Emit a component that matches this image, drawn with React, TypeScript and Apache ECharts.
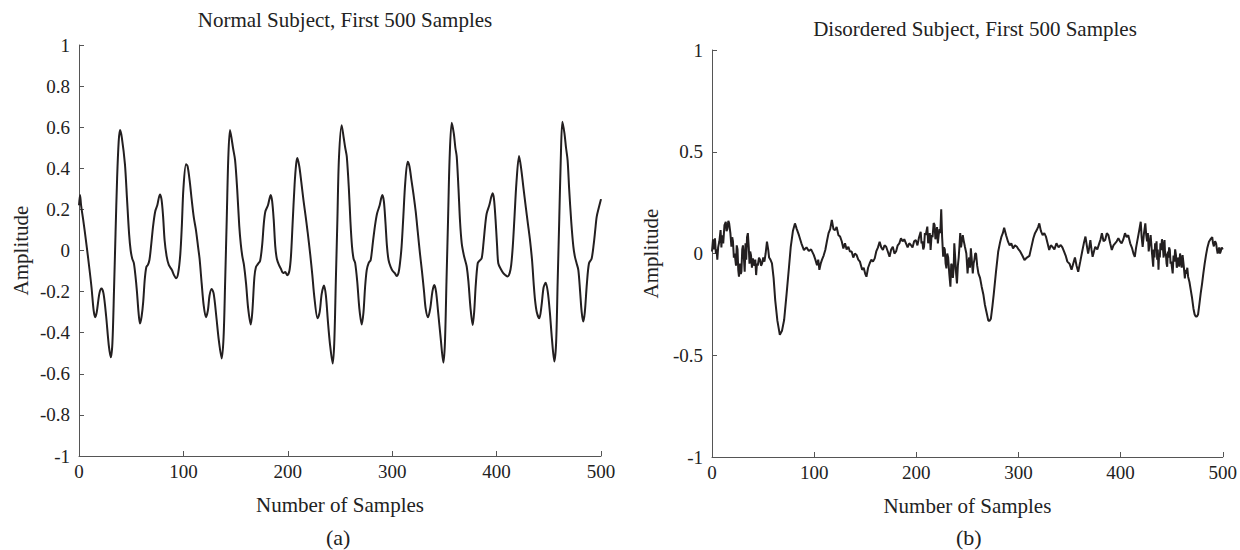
import React, { useEffect, useRef } from "react";
import * as echarts from "echarts";

const titleNormal = "Normal Subject, First 500 Samples";
const titleDisordered = "Disordered Subject, First 500 Samples";
const xAxisName = "Number of Samples";
const yAxisName = "Amplitude";
const panelLabels = ["(a)", "(b)"];

// [sample index, amplitude]
const normalSignal: number[][] = [
  [0, 0.22], [1, 0.27], [2, 0.22], [4, 0.15], [7, 0.035], [10, -0.09], [12, -0.18], [14, -0.29], [15.5, -0.325],
  [17, -0.3], [19.5, -0.21], [21.5, -0.185], [23.5, -0.21], [26, -0.32], [28.5, -0.46], [30.5, -0.52], [32, -0.45],
  [33.5, -0.2], [35, 0.085], [36.5, 0.35], [38, 0.53], [39.3, 0.586], [41, 0.55], [44, 0.42], [46, 0.25], [48, 0.08],
  [49.5, 0.0], [51, -0.04], [52.5, -0.06], [54, -0.12], [55.5, -0.2], [57, -0.3], [58.4, -0.355], [60, -0.32],
  [61.5, -0.25], [63, -0.14], [64.5, -0.08], [66, -0.07], [67.5, -0.045], [69, 0.02], [71, 0.12], [73, 0.19],
  [75, 0.22], [77.5, 0.273], [79, 0.25], [80.5, 0.17], [82, 0.05], [84, -0.03], [86, -0.07], [89, -0.095],
  [91, -0.12], [93, -0.135], [95, -0.11], [97, -0.02], [98.5, 0.12], [100, 0.3], [102.5, 0.42], [104, 0.41],
  [106, 0.34], [108, 0.245], [110, 0.16], [112, 0.1], [114, 0.02], [115.5, -0.04], [117.5, -0.16], [119.5, -0.27],
  [121.6, -0.325], [123.5, -0.29], [125, -0.22], [127, -0.187], [129, -0.21], [131.5, -0.32], [134, -0.44],
  [136.7, -0.525], [138.5, -0.42], [140, -0.15], [141.5, 0.15], [143, 0.45], [144.6, 0.586], [146, 0.55],
  [147.5, 0.5], [149.5, 0.44], [151.5, 0.3], [153.5, 0.12], [155, 0.03], [156.5, -0.03], [158, -0.07], [160, -0.16],
  [162, -0.28], [164.5, -0.36], [166, -0.3], [168, -0.13], [169.5, -0.08], [171.5, -0.065], [173.5, -0.05],
  [175.5, 0.03], [177, 0.13], [178.5, 0.19], [181, 0.22], [183.6, 0.27], [185, 0.24], [186.5, 0.15], [188, 0.02],
  [189.5, -0.04], [191.5, -0.07], [193.5, -0.09], [195.5, -0.11], [197.5, -0.105], [199.5, -0.12], [201.5, -0.1],
  [203, -0.03], [204.5, 0.12], [206.5, 0.32], [208, 0.42], [209.1, 0.45], [211, 0.41], [213, 0.33], [215, 0.245],
  [217, 0.17], [219, 0.09], [221.5, -0.02], [223.5, -0.12], [225.5, -0.23], [228.5, -0.33], [230.5, -0.3],
  [232.5, -0.21], [234.7, -0.17], [236.5, -0.22], [238.5, -0.35], [240.5, -0.46], [243, -0.55], [244.5, -0.45],
  [246, -0.15], [247.5, 0.15], [249, 0.45], [251.6, 0.61], [253.5, 0.55], [255, 0.5], [256.5, 0.457], [258.5, 0.3],
  [260, 0.14], [261.5, 0.02], [263, -0.04], [264.5, -0.06], [266.5, -0.15], [268.5, -0.28], [270.8, -0.36],
  [272.5, -0.3], [274, -0.18], [275.6, -0.095], [277.5, -0.06], [279.4, -0.046], [281.5, 0.04], [283.5, 0.12],
  [285.5, 0.18], [288, 0.22], [290.5, 0.27], [292, 0.24], [293.5, 0.14], [295, 0.02], [296.5, -0.046], [298.5, -0.08],
  [300.5, -0.1], [302.5, -0.11], [304.3, -0.124], [306, -0.11], [307.5, -0.06], [309, 0.02], [310.5, 0.15],
  [312.5, 0.33], [314.8, 0.432], [316.5, 0.41], [318.5, 0.34], [320.5, 0.27], [322.5, 0.19], [324.5, 0.09],
  [326.6, -0.015], [328.5, -0.1], [330.5, -0.2], [332, -0.28], [334.3, -0.325], [336.5, -0.28], [338.5, -0.2],
  [340.3, -0.168], [342, -0.2], [344, -0.3], [346.5, -0.43], [349, -0.546], [350.5, -0.45], [352, -0.15], [353.5, 0.15],
  [355, 0.45], [357, 0.622], [359, 0.57], [360.5, 0.5], [361.8, 0.457], [363.5, 0.3], [365, 0.14], [366.6, 0.035],
  [368.5, -0.02], [370, -0.05], [371.4, -0.079], [373, -0.15], [375, -0.28], [377.1, -0.363], [378.5, -0.3],
  [380, -0.17], [381.9, -0.062], [383.5, -0.05], [385.7, -0.038], [387.5, 0.04], [389, 0.12], [390.5, 0.18],
  [393, 0.22], [396.2, 0.278], [397.5, 0.25], [399, 0.15], [400.5, 0.02], [401.6, -0.062], [404, -0.09],
  [406.4, -0.11], [408.5, -0.12], [410.6, -0.127], [412.5, -0.11], [414, -0.07], [415.5, 0.02], [417, 0.15],
  [419, 0.33], [421.5, 0.46], [423.5, 0.4], [425.6, 0.31], [428, 0.21], [430, 0.13], [432, 0.05], [434, -0.05],
  [435.5, -0.16], [436.8, -0.24], [438.5, -0.3], [440.9, -0.33], [443, -0.27], [445, -0.18], [447, -0.157],
  [449, -0.2], [451, -0.3], [453, -0.43], [455.3, -0.54], [457, -0.45], [458.5, -0.15], [460, 0.15], [461.5, 0.45],
  [463, 0.627], [465, 0.57], [466.5, 0.5], [468, 0.44], [469.5, 0.3], [471.5, 0.14], [473.5, 0.02], [475, -0.03],
  [476.5, -0.06], [478.3, -0.095], [480, -0.2], [481.5, -0.3], [483, -0.346], [484.5, -0.3], [486.5, -0.16],
  [488.5, -0.062], [491, -0.04], [493, 0.03], [494.5, 0.1], [495.9, 0.165], [498, 0.21], [500, 0.25],
];

// [sample index, amplitude]
const disorderedSignal: number[][] = [
  [0, 0.01], [1, 0.07], [1.8, 0.02], [2.9, 0.075], [3.8, 0.0], [4.5, 0.02], [5.2, -0.03], [6, 0.03], [7.2, 0.06],
  [8.4, 0.115], [9.2, 0.03], [9.8, 0.09], [11, 0.05], [12.2, 0.14], [13.5, 0.156], [14.2, 0.11], [15, 0.12],
  [16, 0.16], [16.8, 0.148], [18, 0.1], [19, 0.033], [19.8, 0.08], [20.5, 0.06], [21.4, -0.02], [22.2, 0.0],
  [23.5, -0.06], [24.2, 0.04], [25, 0.02], [25.7, -0.08], [26.4, -0.114], [27.5, -0.05], [28.2, -0.1], [28.8, -0.09],
  [29.6, 0.02], [30.3, 0.04], [31.2, -0.02], [32, -0.09], [32.8, 0.05], [33.5, -0.03], [34.3, 0.08], [35.1, 0.1],
  [36, 0.03], [36.7, -0.05], [37.4, 0.01], [38.2, -0.01], [39.1, -0.07], [40, -0.024], [41.5, -0.06],
  [42.4, -0.03], [43.2, -0.106], [44, -0.05], [44.8, -0.06], [46, -0.02], [47.1, -0.032], [48, -0.06], [49, -0.05],
  [50.2, -0.02], [51.3, -0.04], [52.5, 0.0], [53.8, 0.058], [55, 0.02], [55.9, -0.02], [57.2, -0.03],
  [58.7, -0.048], [60.3, -0.12], [61.9, -0.23], [64, -0.33], [66.4, -0.4], [68.5, -0.38], [70.6, -0.327],
  [73, -0.2], [75.4, -0.065], [77.1, 0.033], [79.2, 0.11], [81.2, 0.148], [83, 0.12], [85.1, 0.09], [87.5, 0.05],
  [90, 0.017], [92.5, 0.03], [94.8, 0.012], [97, 0.02], [99.6, -0.007], [101.2, -0.03], [102.8, -0.057],
  [104, -0.03], [105.1, -0.08], [106.4, -0.05], [107.7, -0.03], [109.3, -0.01], [110.9, 0.017], [112.5, 0.06],
  [114.1, 0.1], [115.7, 0.12], [117.3, 0.165], [118.9, 0.12], [120.5, 0.115], [122, 0.13], [123.8, 0.09],
  [125.4, 0.083], [127, 0.06], [128.6, 0.025], [130.2, 0.05], [131.8, 0.02], [133.5, 0.033], [135, 0.01],
  [136.7, 0.01], [138.3, -0.02], [139.9, 0.0], [141.5, -0.007], [143.2, -0.03], [144.8, -0.04], [145.9, -0.06],
  [147, -0.08], [148.5, -0.07], [150, -0.1], [151.2, -0.114], [152.8, -0.07], [154.4, -0.048], [156, -0.03],
  [157.6, -0.04], [159.3, -0.024], [160.8, 0.01], [162.5, 0.03], [164.1, 0.058], [165.7, 0.03], [167.3, 0.017],
  [168.9, 0.04], [170.5, 0.033], [172.1, 0.01], [173.8, -0.016], [175.4, 0.02], [177, 0.033], [178.6, 0.0],
  [180.2, 0.01], [181.8, 0.04], [183.4, 0.05], [185, 0.075], [186.6, 0.06], [188.2, 0.07], [189.9, 0.05],
  [191.5, 0.03], [193.1, 0.05], [194.7, 0.042], [196.3, 0.03], [197.9, 0.06], [199.5, 0.066], [201.1, 0.04],
  [202.7, 0.08], [204.3, 0.107], [205.1, 0.05], [205.9, 0.06], [206.8, 0.02], [207.6, 0.033], [208.4, 0.1],
  [209.2, 0.09], [210.8, 0.132], [211.6, 0.05], [212.4, 0.07], [213.2, 0.1], [214, 0.017], [215, 0.09],
  [215.9, 0.08], [217, 0.15], [217.9, 0.14], [218.7, 0.07], [219.5, 0.1], [220.3, 0.13], [221.1, 0.05],
  [221.9, 0.09], [222.7, 0.12], [223.5, 0.1], [224.4, 0.217], [225.3, 0.08], [226.3, -0.016], [227.1, 0.03],
  [227.9, 0.02], [228.7, -0.05], [229.5, -0.073], [230.3, 0.0], [231.2, -0.02], [232.3, -0.1], [233.4, -0.163],
  [234.2, -0.05], [235, -0.06], [235.8, -0.12], [236.6, -0.073], [237.2, 0.05], [238.2, -0.03], [239, -0.1],
  [239.8, -0.147], [240.7, -0.06], [241.5, -0.02], [242.3, 0.04], [243, 0.1], [243.8, 0.03], [244.6, 0.06],
  [245.5, 0.09], [246.3, 0.066], [247.6, 0.033], [249, 0.0], [250.2, -0.098], [251, -0.04], [251.8, -0.02],
  [252.6, -0.07], [253.4, 0.025], [254.3, -0.03], [255.3, -0.098], [256.1, -0.05], [256.9, -0.03], [257.7, 0.0],
  [258.5, 0.0], [259.6, -0.06], [260.8, -0.098], [262.4, -0.12], [264, -0.163], [265.6, -0.2], [267.2, -0.253],
  [268.8, -0.29], [270.5, -0.33], [271.8, -0.33], [273, -0.32], [274.5, -0.26], [275.9, -0.196], [278, -0.09],
  [280.2, 0.01], [281.8, 0.05], [283.4, 0.083], [284.7, 0.1], [286, 0.127], [287.9, 0.09], [289.8, 0.058],
  [291.4, 0.04], [293, 0.05], [294.7, 0.025], [296.6, 0.04], [298.5, 0.033], [300.1, 0.02], [301.7, 0.01],
  [303.8, -0.01], [305.9, -0.032], [308.3, -0.02], [310.7, -0.012], [312.6, 0.03], [314.6, 0.075], [316.2, 0.1],
  [317.9, 0.115], [319.2, 0.13], [320.4, 0.148], [322, 0.11], [323.7, 0.09], [325.3, 0.1], [326.9, 0.083],
  [328.5, 0.05], [330.1, 0.017], [331.7, 0.04], [333.3, 0.033], [335.2, 0.02], [337.2, 0.05], [339.3, 0.03],
  [341.4, 0.042], [343, 0.03], [344.6, 0.01], [346.2, -0.01], [347.9, -0.04], [350, -0.05], [352, -0.08],
  [353.6, -0.05], [355.3, -0.02], [356.9, -0.06], [358.5, -0.09], [360.5, -0.04], [362.4, 0.01], [364, 0.05],
  [365.6, 0.083], [366.9, 0.04], [368.2, 0.0], [369.3, 0.03], [370.4, 0.066], [371.5, 0.02], [372.6, -0.016],
  [373.9, 0.01], [375.2, 0.033], [377.2, 0.02], [379.1, 0.05], [380.4, 0.07], [381.7, 0.1], [383.3, 0.06],
  [384.9, 0.066], [386.5, 0.1], [388.1, 0.09], [389.8, 0.05], [391.4, 0.017], [393, 0.04], [394.6, 0.05],
  [396.2, 0.06], [397.8, 0.075], [399.4, 0.06], [401, 0.05], [402.7, 0.07], [404.3, 0.1], [405.9, 0.08],
  [407.5, 0.09], [409.4, 0.05], [411.3, 0.025], [412.6, 0.0], [413.9, -0.016], [415.2, 0.03], [416.5, 0.066],
  [418.1, 0.11], [419.7, 0.156], [420.6, 0.08], [421.6, 0.033], [422.9, 0.1], [424.2, 0.148], [425.1, 0.09],
  [425.9, 0.06], [426.7, 0.1], [427.5, 0.01], [428.4, 0.05], [429.4, 0.09], [430.6, 0.01], [431.9, -0.065],
  [432.5, 0.02], [433.2, -0.02], [433.8, 0.05], [434.5, 0.017], [435.2, 0.06], [435.8, -0.03], [436.4, 0.02],
  [437.1, -0.08], [437.7, 0.0], [438.4, -0.02], [439, 0.05], [439.7, 0.017], [440.5, 0.07], [441.3, 0.04],
  [442.1, -0.02], [443, 0.066], [443.6, -0.01], [444.3, 0.0], [445, -0.05], [445.6, -0.065], [446.2, 0.01],
  [446.9, -0.02], [447.5, 0.03], [448.2, 0.017], [448.9, -0.05], [449.6, -0.04], [450.3, -0.07], [451, -0.098],
  [451.8, -0.01], [452.6, -0.04], [453.4, 0.02], [454.2, -0.008], [455, -0.07], [455.8, -0.04], [456.6, -0.02],
  [457.4, -0.065], [458.2, 0.0], [459, -0.03], [459.8, -0.07], [460.7, -0.008], [461.8, -0.06], [462.9, -0.122],
  [463.7, -0.08], [464.5, -0.1], [465.3, -0.07], [466.1, -0.114], [467.4, -0.14], [468.7, -0.18], [470, -0.22],
  [471.3, -0.27], [472.5, -0.3], [473.6, -0.31], [474.7, -0.31], [475.8, -0.3], [477.1, -0.25], [478.4, -0.196],
  [479.7, -0.15], [481, -0.098], [482.3, -0.05], [483.6, -0.008], [485, 0.03], [486.5, 0.058], [488, 0.07],
  [489.7, 0.08], [490.5, 0.05], [491.3, 0.035], [492.5, 0.06], [493.5, 0.05], [494.3, 0.02], [495, 0.0],
  [496.5, 0.03], [497.3, 0.0], [498, 0.01], [499, 0.03], [500, 0.02],
];

const normalTicks = { min: -1, max: 1, interval: 0.2 };
const disorderedTicks = { min: -1, max: 1, interval: 0.5 };
const sampleTicks = { min: 0, max: 500, interval: 100 };

const FONT = "'Liberation Serif', 'Times New Roman', serif";
const TEXT = "#222";
const AXIS = "#555";
const LINE = "#231f20";

function xAxisFor(gridIndex: number) {
  return {
    type: "value",
    gridIndex,
    min: sampleTicks.min,
    max: sampleTicks.max,
    interval: sampleTicks.interval,
    name: xAxisName,
    nameLocation: "middle",
    nameGap: 38,
    nameTextStyle: { fontFamily: FONT, fontSize: 21, color: TEXT },
    axisLine: { show: true, onZero: false, lineStyle: { color: AXIS, width: 1 } },
    axisTick: { show: true, inside: true, length: 5, lineStyle: { color: AXIS } },
    axisLabel: { fontFamily: FONT, fontSize: 19, color: TEXT, margin: 6 },
    splitLine: { show: false },
  };
}

function yAxisFor(gridIndex: number, ticks: { min: number; max: number; interval: number }, gap: number) {
  return {
    type: "value",
    gridIndex,
    min: ticks.min,
    max: ticks.max,
    interval: ticks.interval,
    name: yAxisName,
    nameLocation: "middle",
    nameGap: gap,
    nameTextStyle: { fontFamily: FONT, fontSize: 21, color: TEXT },
    axisLine: { show: true, onZero: false, lineStyle: { color: AXIS, width: 1 } },
    axisTick: { show: true, inside: true, length: 5, lineStyle: { color: AXIS } },
    axisLabel: { fontFamily: FONT, fontSize: 19, color: TEXT, margin: 9 },
    splitLine: { show: false },
  };
}

export default function App() {
  const ref = useRef<HTMLDivElement>(null);
  useEffect(() => {
    if (!ref.current) return;
    const chart = echarts.init(ref.current, undefined, { renderer: "svg" });
    chart.setOption({
      animation: false,
      backgroundColor: "#ffffff",
      title: [
        {
          text: titleNormal,
          left: 340,
          top: 4,
          textAlign: "center",
          textStyle: { fontFamily: FONT, fontSize: 21, fontWeight: "normal", color: TEXT },
        },
        {
          text: titleDisordered,
          left: 970,
          top: 13,
          textAlign: "center",
          textStyle: { fontFamily: FONT, fontSize: 21, fontWeight: "normal", color: TEXT },
        },
      ],
      grid: [
        { left: 79, top: 45, width: 522, height: 411 },
        { left: 712, top: 50, width: 517, height: 407 },
      ],
      xAxis: [xAxisFor(0), xAxisFor(1)],
      yAxis: [yAxisFor(0, normalTicks, 48), yAxisFor(1, disorderedTicks, 51)],
      series: [
        {
          type: "line",
          xAxisIndex: 0,
          yAxisIndex: 0,
          data: normalSignal,
          showSymbol: false,
          smooth: 0.3,
          lineStyle: { color: LINE, width: 2 },
        },
        {
          type: "line",
          xAxisIndex: 1,
          yAxisIndex: 1,
          data: disorderedSignal,
          showSymbol: false,
          lineStyle: { color: LINE, width: 2 },
        },
      ],
      graphic: [
        {
          type: "text",
          left: 340 - 14,
          top: 526,
          style: { text: panelLabels[0], font: `22px ${FONT}`, fill: TEXT },
        },
        {
          type: "text",
          left: 970 - 14,
          top: 526,
          style: { text: panelLabels[1], font: `22px ${FONT}`, fill: TEXT },
        },
      ],
    });
    return () => chart.dispose();
  }, []);
  return (
    <div
      ref={ref}
      style={{ position: "absolute", left: 0, top: 0, width: 1240, height: 550, background: "#fff" }}
    />
  );
}
